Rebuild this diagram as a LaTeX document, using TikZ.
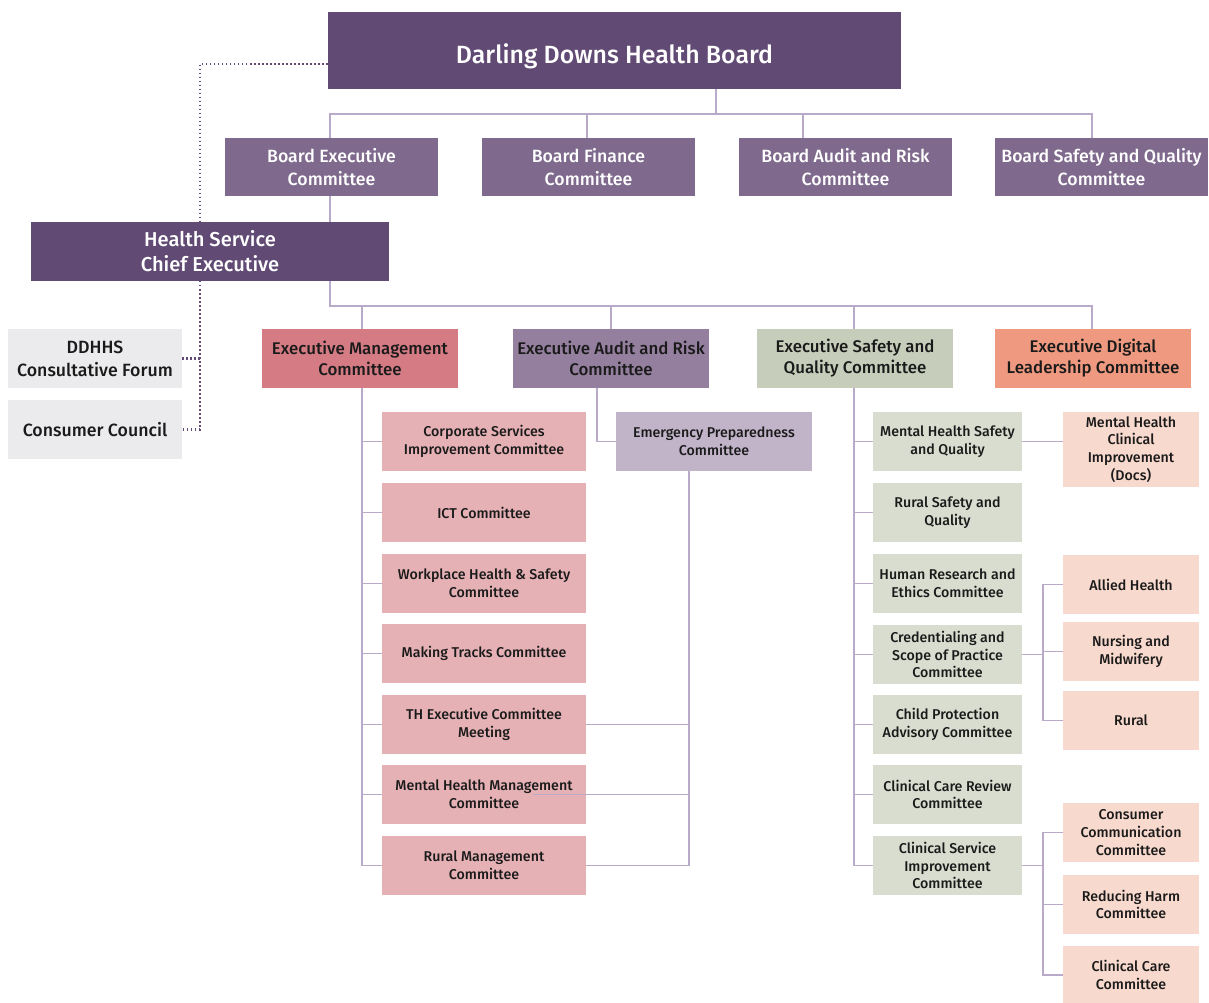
\documentclass[tikz,border=0pt]{standalone}
\usepackage{fontspec}
\setmainfont{Fira Sans}[BoldFont={Fira Sans Medium}]
\usetikzlibrary{backgrounds}

\definecolor{darkplum}{HTML}{614B75}
\definecolor{boardplum}{HTML}{7F6A8E}
\definecolor{linkplum}{HTML}{B9AAC9}
\definecolor{emcred}{HTML}{D47B84}
\definecolor{earcplum}{HTML}{947F9E}
\definecolor{esqsage}{HTML}{C6CEBB}
\definecolor{edlsalmon}{HTML}{EF9A80}
\definecolor{forumgrey}{HTML}{EBEBED}
\definecolor{emcpink}{HTML}{E5B1B5}
\definecolor{epclilac}{HTML}{C1B4C8}
\definecolor{esqpale}{HTML}{D8DDCF}
\definecolor{peach}{HTML}{F8D9CD}
\definecolor{inkdark}{HTML}{1A1A1A}

\newcommand{\titlesize}{\fontsize{17.7}{20}\selectfont}
\newcommand{\ceosize}{\fontsize{14.3}{17.8}\selectfont}
\newcommand{\boardsize}{\fontsize{12.6}{16.4}\selectfont}
\newcommand{\execsize}{\fontsize{12}{15}\selectfont}
\newcommand{\subsize}{\fontsize{10.1}{12.6}\selectfont}

\begin{document}
\begin{tikzpicture}[x=0.025cm, y=-0.025cm,
  box/.style={inner sep=0pt, align=center, text=inkdark},
  topbox/.style={box, fill=darkplum, text=white, font=\bfseries\titlesize, minimum width=14.325cm, minimum height=1.925cm},
  boardbox/.style={box, fill=boardplum, text=white, font=\bfseries\boardsize, minimum width=5.325cm, minimum height=1.45cm},
  ceobox/.style={box, fill=darkplum, text=white, font=\bfseries\ceosize, minimum width=8.95cm, minimum height=1.475cm},
  forumbox/.style={box, fill=forumgrey, font=\bfseries\boardsize, minimum width=4.35cm, minimum height=1.475cm},
  execbox/.style={box, font=\bfseries\execsize, minimum width=4.9cm, minimum height=1.475cm},
  mgmtbox/.style={box, fill=emcpink, font=\bfseries\subsize, minimum width=5.1cm, minimum height=1.475cm},
  safebox/.style={box, fill=esqpale, font=\bfseries\subsize, minimum width=3.725cm, minimum height=1.475cm},
  peachbox/.style={box, fill=peach, font=\bfseries\subsize, minimum width=3.4cm, minimum height=1.475cm},
  link/.style={draw=linkplum, line width=1.4pt},
  dotlink/.style={draw=darkplum, line width=1.45pt, dash pattern=on 1.05pt off 1.8pt}
]
\useasboundingbox (0,0) rectangle (1209,1003);

% board level
\node[topbox] (board) at (614.5,50.5) {\raisebox{0pt}[\dimexpr\height+0.3cm\relax]{Darling Downs Health Board}};
\node[boardbox] (bec) at (331.5,167) {Board Executive\\Committee};
\node[boardbox] (bfc) at (588.5,167) {Board Finance\\Committee};
\node[boardbox] (barc) at (845.5,167) {Board Audit and Risk\\Committee};
\node[boardbox] (bsq) at (1101.5,167) {Board Safety and Quality\\Committee};

% chief executive and forums
\node[ceobox] (hsce) at (210,251.5) {Health Service\\Chief Executive};
\node[forumbox] (ddhhs) at (95,358.5) {DDHHS\\Consultative Forum};
\node[forumbox] (ccouncil) at (95,429.5) {Consumer Council};

% executive committees
\node[execbox, fill=emcred] (emc) at (360,358.5) {Executive Management\\Committee};
\node[execbox, fill=earcplum] (earc) at (611,358.5) {Executive Audit and Risk\\Committee};
\node[execbox, fill=esqsage] (esq) at (855,358.5) {Executive Safety and\\Quality Committee};
\node[execbox, fill=edlsalmon] (edl) at (1093,358.5) {Executive Digital\\Leadership Committee};

% management committees
\node[mgmtbox] (csic) at (484,441.5) {Corporate Services\\Improvement Committee};
\node[mgmtbox] (ict) at (484,512.5) {ICT Committee};
\node[mgmtbox] (whs) at (484,583.5) {Workplace Health \& Safety\\Committee};
\node[mgmtbox] (mtc) at (484,653.5) {Making Tracks Committee};
\node[mgmtbox] (thec) at (484,724.5) {TH Executive Committee\\Meeting};
\node[mgmtbox] (mhmc) at (484,794.5) {Mental Health Management\\Committee};
\node[mgmtbox] (rmc) at (484,865.5) {Rural Management\\Committee};
\node[execbox, fill=epclilac, font=\bfseries\subsize] (epc) at (714,441.5) {Emergency Preparedness\\Committee};

% safety and quality committees
\node[safebox] (mhsq) at (947.5,441.5) {Mental Health Safety\\and Quality};
\node[safebox] (rsq) at (947.5,512.5) {Rural Safety and\\Quality};
\node[safebox] (hrec) at (947.5,583.5) {Human Research and\\Ethics Committee};
\node[safebox] (cred) at (947.5,654.5) {Credentialing and\\Scope of Practice\\Committee};
\node[safebox] (cpac) at (947.5,724.5) {Child Protection\\Advisory Committee};
\node[safebox] (ccrc) at (947.5,794.5) {Clinical Care Review\\Committee};
\node[safebox] (csi) at (947.5,865.5) {Clinical Service\\Improvement\\Committee};

% sub-committees
\node[peachbox, minimum height=1.875cm] (mhci) at (1131,449.5) {Mental Health\\Clinical\\Improvement\\(Docs)};
\node[peachbox] (allied) at (1131,584.5) {Allied Health};
\node[peachbox] (nursing) at (1131,651.5) {Nursing and\\Midwifery};
\node[peachbox] (rural) at (1131,720.5) {Rural};
\node[peachbox] (ccomm) at (1131,832.5) {Consumer\\Communication\\Committee};
\node[peachbox] (rharm) at (1131,904.5) {Reducing Harm\\Committee};
\node[peachbox, minimum height=1.425cm] (ccare) at (1131,975) {Clinical Care\\Committee};

% bus points
\coordinate (busA) at (330,114);
\coordinate (busB) at (1092,114);
\coordinate (dropF) at (587,114);
\coordinate (dropB) at (803,114);
\coordinate (busC) at (330,306);
\coordinate (busD) at (1092,306);
\coordinate (spineE) at (362,306);
\coordinate (spineA) at (597,388);
\coordinate (spineP) at (689,471);
\coordinate (spineS) at (854,306);
\coordinate (forkC) at (1043,654.5);
\coordinate (forkS) at (1043,865.5);
\coordinate (dotX) at (200,64);

\begin{scope}[on background layer]
% board links
\draw[link] (716,89) -- (716,114);
\draw[link] (bec.north -| busA) -- (busA) -- (busB) -- (bsq.north -| busB);
\draw[link] (dropF) -- (bfc.north -| dropF);
\draw[link] (dropB) -- (barc.north -| dropB);
\draw[link] (bec.south -| busA) -- (busC) -- (busD) -- (edl.north -| busD);
\draw[link] (spineE) -- (emc.north -| spineE);
\draw[link] (busC -| earc) -- (earc.north);
\draw[link] (spineS) -- (esq.north -| spineS);
% management spine
\draw[link] (emc.south -| spineE) |- (rmc.west);
\foreach \n in {csic,ict,whs,mtc,thec,mhmc}
  \draw[link] (\n.west -| spineE) -- (\n.west);
\draw[link] (spineA) |- (epc.west);
\draw[link] (spineP) |- (rmc.east);
\draw[link] (thec.east -| spineP) -- (thec.east);
% safety spine
\draw[link] (esq.south -| spineS) |- (csi.west);
\foreach \n in {mhsq,rsq,hrec,cred,cpac,ccrc}
  \draw[link] (\n.west -| spineS) -- (\n.west);
\draw[link] (mhsq.east) -- (mhsq.east -| mhci.west);
\draw[link] (cred.east) -- (forkC);
\draw[link] (allied.west) -| (forkC) |- (rural.west);
\draw[link] (nursing.west -| forkC) -- (nursing.west);
\draw[link] (csi.east) -- (forkS);
\draw[link] (ccomm.west) -| (forkS) |- (ccare.west);
\draw[link] (rharm.west -| forkS) -- (rharm.west);
% consultative links
\draw[dotlink] (board.west |- dotX) -- (dotX) |- (ccouncil.east);
\draw[dotlink] (ddhhs.east) -- (ddhhs.east -| dotX);
\end{scope}
% this one runs over its box
\draw[link] (mhmc.east -| spineP) -- ([xshift=-1.325cm]mhmc.east);
\end{tikzpicture}
\end{document}
